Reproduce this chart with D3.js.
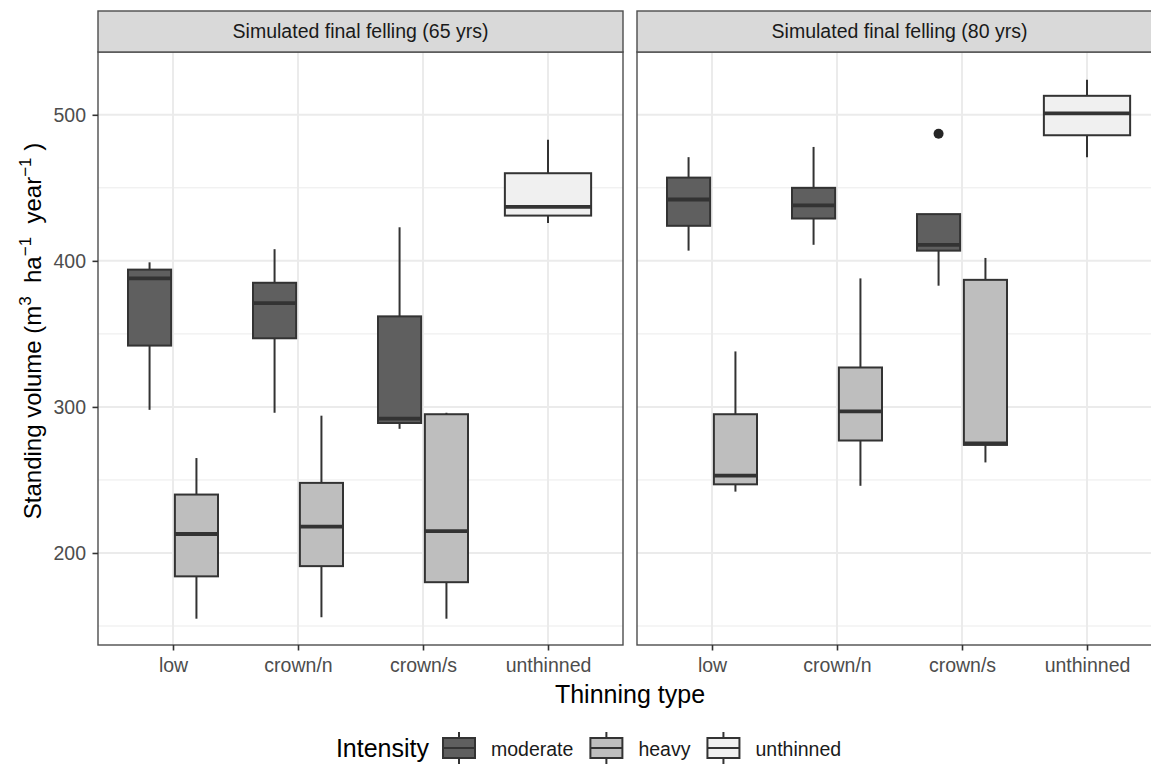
<!DOCTYPE html>
<html>
<head>
<meta charset="utf-8">
<script src="https://cdn.jsdelivr.net/npm/d3@7"></script>
<style>
  body { margin: 0; background: #fff; }
  svg { display: block; font-family: "Liberation Sans", Arial, sans-serif; }
</style>
</head>
<body>
<svg id="chart"></svg>
<script>
const panels = ["Simulated final felling (65 yrs)", "Simulated final felling (80 yrs)"];
const thinningTypes = ["low", "crown/n", "crown/s", "unthinned"];
const intensities = ["moderate", "heavy", "unthinned"];
const yTicks = [200, 300, 400, 500];
const yMinorTicks = [150, 250, 350, 450];

// [thinning, intensity, lower whisker, q1, median, q3, upper whisker]
const boxes65 = [
  ["low", "moderate", 298, 342, 388, 394, 399],
  ["low", "heavy", 155, 184, 213, 240, 265],
  ["crown/n", "moderate", 296, 347, 371, 385, 408],
  ["crown/n", "heavy", 156, 191, 218, 248, 294],
  ["crown/s", "moderate", 285, 289, 292, 362, 423],
  ["crown/s", "heavy", 155, 180, 215, 295, 296],
  ["unthinned", "unthinned", 426, 431, 437, 460, 483]
];
const boxes80 = [
  ["low", "moderate", 407, 424, 442, 457, 471],
  ["low", "heavy", 242, 247, 253, 295, 338],
  ["crown/n", "moderate", 411, 429, 438, 450, 478],
  ["crown/n", "heavy", 246, 277, 297, 327, 388],
  ["crown/s", "moderate", 383, 407, 411, 432, 432],
  ["crown/s", "heavy", 262, 274, 275, 387, 402],
  ["unthinned", "unthinned", 471, 486, 501, 513, 524]
];
const outliers65 = [];
const outliers80 = [["crown/s", "moderate", 487]];

const panelData = [
  { title: panels[0], boxes: boxes65, outliers: outliers65 },
  { title: panels[1], boxes: boxes80, outliers: outliers80 }
];

const W = 1151, H = 765;
const panelLeft = [98, 637];
const panelW = 525;
const stripTop = 11, panelTop = 52, panelBottom = 645;
const lineColor = "#333333";
const gridColor = "#ebebeb";
const lw = 2;

const fill = d3.scaleOrdinal()
  .domain(intensities)
  .range(["#5f5f5f", "#bebebe", "#f0f0f0"]);

const svg = d3.select("#chart").attr("width", W).attr("height", H);

const y = d3.scaleLinear().domain([137, 543]).range([panelBottom, panelTop]);

const x = d3.scalePoint().domain(thinningTypes).range([0, panelW]).padding(0.6);

const dodge = d3.scaleBand()
  .domain(["moderate", "heavy"])
  .range([-x.step() * 0.375, x.step() * 0.375]);
const boxW = dodge.bandwidth() * 0.92;

function boxPos(d) {
  // unthinned has only one group, so it takes the full width
  if (d[0] === "unthinned") return { cx: x(d[0]), w: boxW * 2 };
  return { cx: x(d[0]) + dodge(d[1]) + dodge.bandwidth() / 2, w: boxW };
}

panelData.forEach((p, pi) => {
  const g = svg.append("g").attr("transform", `translate(${panelLeft[pi]},0)`);

  // grid
  g.selectAll(".minor")
    .data(yMinorTicks)
    .enter()
    .append("line")
    .attr("x1", 0).attr("x2", panelW)
    .attr("y1", (d) => y(d)).attr("y2", (d) => y(d))
    .style("stroke", gridColor).style("stroke-width", 1);

  g.selectAll(".major")
    .data(yTicks)
    .enter()
    .append("line")
    .attr("x1", 0).attr("x2", panelW)
    .attr("y1", (d) => y(d)).attr("y2", (d) => y(d))
    .style("stroke", gridColor).style("stroke-width", 2);

  g.selectAll(".vgrid")
    .data(thinningTypes)
    .enter()
    .append("line")
    .attr("x1", (d) => x(d)).attr("x2", (d) => x(d))
    .attr("y1", panelTop).attr("y2", panelBottom)
    .style("stroke", gridColor).style("stroke-width", 2);

  // boxes
  p.boxes.forEach((d) => {
    const pos = boxPos(d);
    const col = fill(d[1]);
    g.append("line")
      .attr("x1", pos.cx).attr("x2", pos.cx)
      .attr("y1", y(d[5])).attr("y2", y(d[6]))
      .style("stroke", lineColor).style("stroke-width", lw);
    g.append("line")
      .attr("x1", pos.cx).attr("x2", pos.cx)
      .attr("y1", y(d[3])).attr("y2", y(d[2]))
      .style("stroke", lineColor).style("stroke-width", lw);
    g.append("rect")
      .attr("x", pos.cx - pos.w / 2)
      .attr("y", y(d[5]))
      .attr("width", pos.w)
      .attr("height", y(d[3]) - y(d[5]))
      .style("fill", col)
      .style("stroke", lineColor)
      .style("stroke-width", lw);
    g.append("line")
      .attr("x1", pos.cx - pos.w / 2).attr("x2", pos.cx + pos.w / 2)
      .attr("y1", y(d[4])).attr("y2", y(d[4]))
      .style("stroke", lineColor).style("stroke-width", 3.8);
  });

  g.selectAll(".outlier")
    .data(p.outliers)
    .enter()
    .append("circle")
    .attr("cx", (d) => boxPos(d).cx)
    .attr("cy", (d) => y(d[2]))
    .attr("r", 5)
    .style("fill", "#262626");

  // panel border
  g.append("rect")
    .attr("x", 0).attr("y", panelTop)
    .attr("width", panelW).attr("height", panelBottom - panelTop)
    .style("fill", "none").style("stroke", "#4d4d4d").style("stroke-width", 1.4);

  // strip
  g.append("rect")
    .attr("x", 0).attr("y", stripTop)
    .attr("width", panelW).attr("height", panelTop - stripTop)
    .style("fill", "#d9d9d9").style("stroke", "#4d4d4d").style("stroke-width", 1.4);
  g.append("text")
    .attr("x", panelW / 2)
    .attr("y", (stripTop + panelTop) / 2)
    .attr("dy", "0.35em")
    .attr("text-anchor", "middle")
    .style("font-size", "19.5px")
    .style("fill", "#1a1a1a")
    .text(p.title);

  // x axis
  const xAxis = g.append("g")
    .attr("transform", `translate(0,${panelBottom})`)
    .call(d3.axisBottom(x).tickSize(5.5).tickPadding(7.5));
  xAxis.select(".domain").remove();
  xAxis.selectAll("line").style("stroke", lineColor).style("stroke-width", 1.6);
  xAxis.selectAll("text")
    .style("font-size", "19.5px")
    .style("fill", "#4d4d4d")
    .style("font-family", "Liberation Sans, Arial, sans-serif");

  if (pi === 0) {
    const yAxis = g.append("g")
      .call(d3.axisLeft(y).tickValues(yTicks).tickSize(5.5).tickPadding(6.5));
    yAxis.select(".domain").remove();
    yAxis.selectAll("line").style("stroke", lineColor).style("stroke-width", 1.6);
    yAxis.selectAll("text")
      .style("font-size", "19.5px")
      .style("fill", "#4d4d4d")
      .style("font-family", "Liberation Sans, Arial, sans-serif");
  }
});

// axis titles
svg.append("text")
  .attr("x", (panelLeft[0] + panelLeft[1] + panelW) / 2)
  .attr("y", 703)
  .attr("text-anchor", "middle")
  .style("font-size", "25px")
  .style("fill", "#000")
  .text("Thinning type");

const yTitle = svg.append("text")
  .attr("transform", "translate(41,331) rotate(-90)")
  .attr("text-anchor", "middle")
  .style("font-size", "24px")
  .style("fill", "#000");
yTitle.append("tspan").text("Standing volume (m");
yTitle.append("tspan").attr("dy", -10).style("font-size", "17px").text("3");
yTitle.append("tspan").attr("dy", 10).text("\u00a0\u00a0ha");
yTitle.append("tspan").attr("dy", -10).style("font-size", "17px").text("\u22121");
yTitle.append("tspan").attr("dy", 10).text("\u00a0\u00a0year");
yTitle.append("tspan").attr("dy", -10).style("font-size", "17px").text("\u22121");
yTitle.append("tspan").attr("dy", 10).text("\u00a0)");

// legend
const legend = svg.append("g");
const legTitle = legend.append("text")
  .attr("x", 0).attr("y", 757)
  .style("font-size", "25px")
  .text("Intensity");
let lx = legTitle.node().getComputedTextLength() + 14;
const keyW = 32, keyH = 20, keyTop = 738;
intensities.forEach((name) => {
  const k = legend.append("g").attr("transform", `translate(${lx},0)`);
  k.append("line")
    .attr("x1", keyW / 2).attr("x2", keyW / 2)
    .attr("y1", keyTop - 6).attr("y2", keyTop + keyH + 6)
    .style("stroke", lineColor).style("stroke-width", lw);
  k.append("rect")
    .attr("x", 0).attr("y", keyTop)
    .attr("width", keyW).attr("height", keyH)
    .style("fill", fill(name)).style("stroke", lineColor).style("stroke-width", lw);
  k.append("line")
    .attr("x1", 0).attr("x2", keyW)
    .attr("y1", keyTop + keyH / 2).attr("y2", keyTop + keyH / 2)
    .style("stroke", lineColor).style("stroke-width", lw);
  const t = legend.append("text")
    .attr("x", lx + keyW + 16)
    .attr("y", 756)
    .style("font-size", "19.5px")
    .style("fill", "#1a1a1a")
    .text(name);
  lx += keyW + 16 + t.node().getComputedTextLength() + 17;
});
const legWidth = lx - 17;
legend.attr("transform", `translate(${588.5 - legWidth / 2},0)`);
</script>
</body>
</html>
